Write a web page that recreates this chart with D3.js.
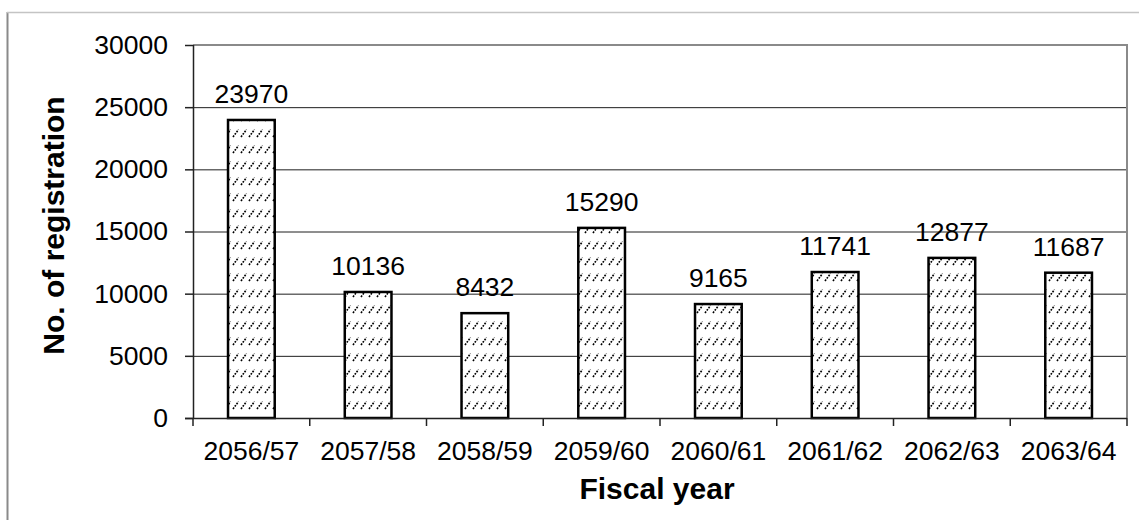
<!DOCTYPE html>
<html>
<head>
<meta charset="utf-8">
<script src="https://cdn.jsdelivr.net/npm/d3@7"></script>
<style>
  html, body { margin: 0; padding: 0; background: #fff; }
  svg { display: block; font-family: "Liberation Sans", Arial, sans-serif; }
</style>
</head>
<body>
<svg id="chart" width="1139" height="520"></svg>
<script>
// Registrations per fiscal year
const categories = ["2056/57", "2057/58", "2058/59", "2059/60", "2060/61", "2061/62", "2062/63", "2063/64"];
const registrations = [23970, 10136, 8432, 15290, 9165, 11741, 12877, 11687];
const yTicks = [0, 5000, 10000, 15000, 20000, 25000, 30000];
const xTitle = "Fiscal year";
const yTitle = "No. of registration";

const W = 1139, H = 520;
const plot = { left: 193, right: 1127, top: 45, bottom: 418 };

const svg = d3.select("#chart");

// Dashed up-diagonal hatch used for bar fills
const defs = svg.append("defs");
const pat = defs.append("pattern")
  .attr("id", "hatch")
  .attr("patternUnits", "userSpaceOnUse")
  .attr("width", 8).attr("height", 16);
pat.append("rect").attr("width", 8).attr("height", 16).attr("fill", "#fff");
pat.append("line")
  .attr("x1", 1).attr("y1", 9).attr("x2", 6.5).attr("y2", 1.5)
  .attr("stroke", "#000").attr("stroke-width", 1.6)
  .attr("stroke-dasharray", "1.8 1.2");

// Outer chart frame (left and top edges)
svg.append("line").attr("x1", 7.5).attr("x2", 7.5).attr("y1", 12).attr("y2", H)
  .attr("stroke", "#8a8a8a").attr("stroke-width", 2);
svg.append("line").attr("x1", 7).attr("x2", W).attr("y1", 12.5).attr("y2", 12.5)
  .attr("stroke", "#c4c4c4").attr("stroke-width", 1.5);

const x = d3.scaleBand()
  .domain(categories)
  .range([plot.left, plot.right])
  .paddingInner(0.6)
  .paddingOuter(0.3);

const y = d3.scaleLinear()
  .domain([0, 30000])
  .range([plot.bottom, plot.top]);

// Gridlines
svg.append("g")
  .attr("transform", `translate(${plot.left},0)`)
  .call(d3.axisLeft(y).tickValues(yTicks.filter(v => v > 0 && v < 30000))
    .tickSize(-(plot.right - plot.left)).tickFormat(""))
  .call(g => g.select(".domain").remove())
  .call(g => g.selectAll("line").attr("stroke", "#1e1e1e").attr("stroke-width", 1));

// Plot area border (top and right)
svg.append("path")
  .attr("d", `M${plot.left},${plot.top}H${plot.right}V${plot.bottom}`)
  .attr("fill", "none").attr("stroke", "#8a8a8a").attr("stroke-width", 2);

// Bars
svg.append("g").selectAll("rect")
  .data(categories)
  .join("rect")
  .attr("x", d => x(d))
  .attr("y", (d, i) => y(registrations[i]))
  .attr("width", x.bandwidth())
  .attr("height", (d, i) => y(0) - y(registrations[i]))
  .attr("fill", "url(#hatch)")
  .attr("stroke", "#000")
  .attr("stroke-width", 2.5);

// Value labels
svg.append("g").selectAll("text")
  .data(categories)
  .join("text")
  .attr("x", d => x(d) + x.bandwidth() / 2)
  .attr("y", (d, i) => y(registrations[i]) - 17)
  .attr("text-anchor", "middle")
  .attr("font-size", 26.5)
  .attr("fill", "#000")
  .text((d, i) => registrations[i]);

// Y axis
const yAxis = svg.append("g")
  .attr("transform", `translate(${plot.left},0)`)
  .call(d3.axisLeft(y).tickValues(yTicks).tickSize(8).tickPadding(17).tickFormat(d3.format("d")));
yAxis.select(".domain").attr("stroke", "#222").attr("stroke-width", 1.5)
  .attr("d", `M0.5,${plot.top}V${plot.bottom}`);
yAxis.selectAll(".tick line").attr("stroke", "#222").attr("stroke-width", 1.5);
yAxis.selectAll(".tick text").attr("font-size", 26.5).attr("fill", "#000")
  .attr("font-family", "Liberation Sans, Arial, sans-serif");

// X axis: labels centred in each band, ticks on band boundaries
const xAxis = svg.append("g")
  .attr("transform", `translate(0,${plot.bottom})`)
  .call(d3.axisBottom(x).tickSize(0).tickPadding(23));
xAxis.select(".domain").attr("stroke", "#222").attr("stroke-width", 1.5)
  .attr("d", `M${plot.left - 8},0.5H${plot.right}`);
xAxis.selectAll(".tick text").attr("font-size", 26.5).attr("fill", "#000")
  .attr("font-family", "Liberation Sans, Arial, sans-serif");

const boundaries = d3.range(categories.length + 1).map(i => plot.left + i * x.step());
xAxis.selectAll(".boundary")
  .data(boundaries)
  .join("line")
  .attr("class", "boundary")
  .attr("x1", d => d).attr("x2", d => d)
  .attr("y1", 0).attr("y2", 8)
  .attr("stroke", "#222").attr("stroke-width", 1.5);

// Axis titles
svg.append("text")
  .attr("x", (plot.left + plot.right) / 2 - 3)
  .attr("y", 499)
  .attr("text-anchor", "middle")
  .attr("font-size", 30)
  .attr("font-weight", "bold")
  .text(xTitle);

svg.append("text")
  .attr("transform", `translate(64,${(plot.top + plot.bottom) / 2 - 6}) rotate(-90)`)
  .attr("text-anchor", "middle")
  .attr("font-size", 30)
  .attr("font-weight", "bold")
  .text(yTitle);
</script>
</body>
</html>
